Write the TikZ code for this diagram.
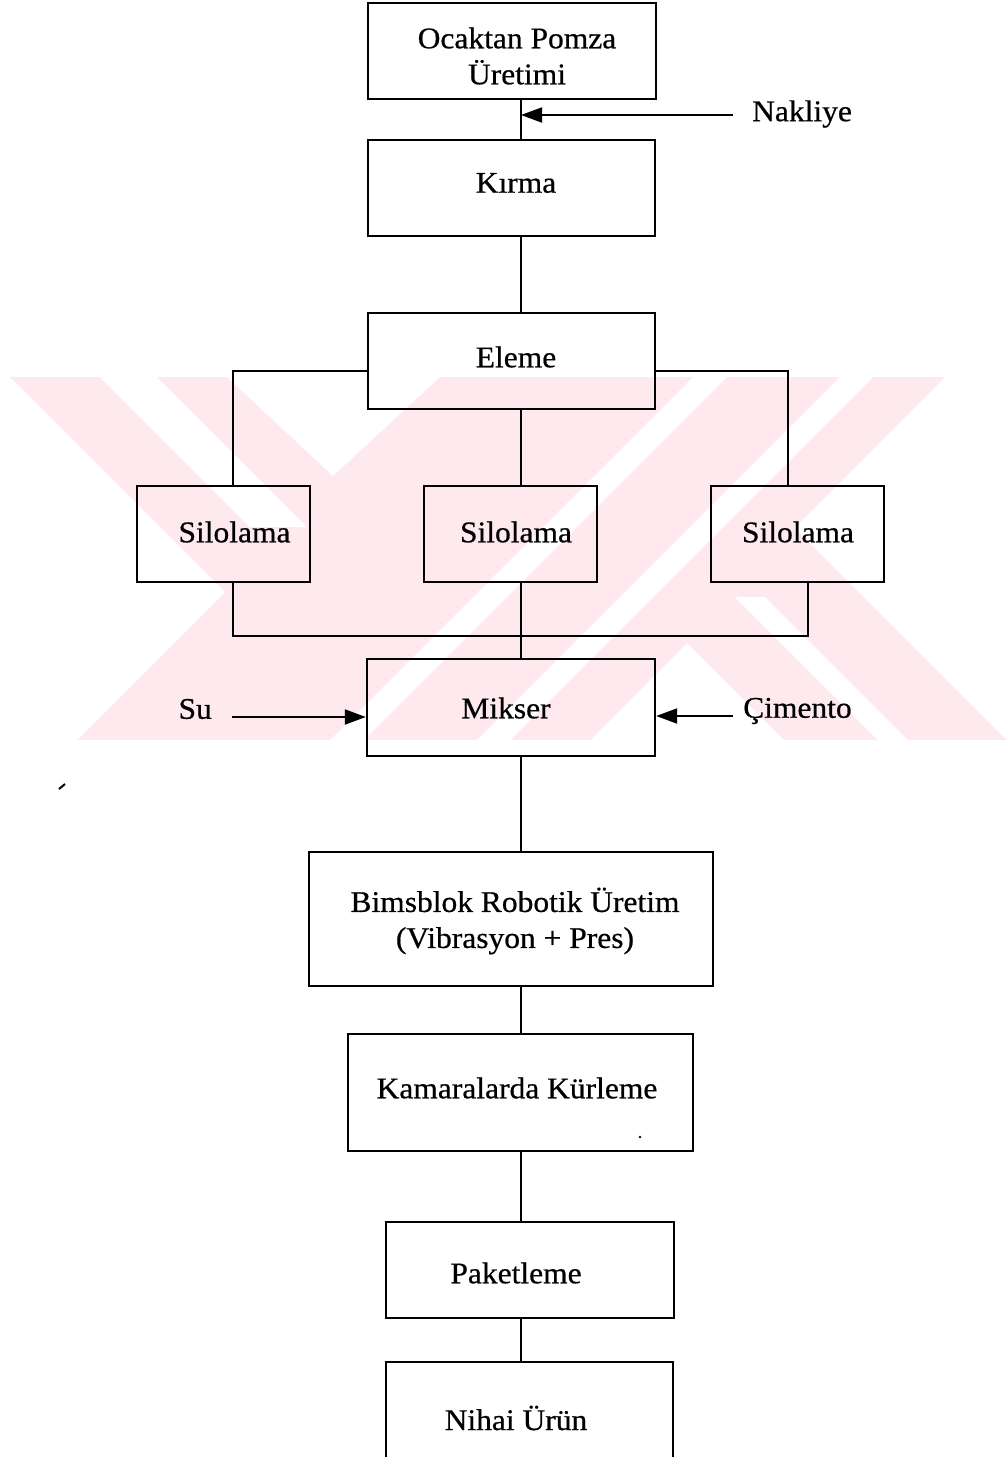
\documentclass[tikz,border=0pt]{standalone}
\usepackage{fontspec}
\setmainfont{Liberation Serif}[FakeStretch=1.05,FakeBold=0.6]
\usetikzlibrary{arrows.meta,calc}
\definecolor{wm}{RGB}{253,233,238}
\tikzset{
  box/.style={draw=black, line width=2.3pt, rectangle, inner sep=0pt},
  lbl/.style={inner sep=0pt, font=\fontsize{30}{36}\selectfont, align=center},
  conn/.style={draw=black, line width=1.9pt},
  arr/.style={conn, -{Triangle[length=21pt,width=15pt]}},
  wmcut/.style={fill=white},
}
\begin{document}
\begin{tikzpicture}[x=1pt,y=-1pt]
\useasboundingbox (0,0) rectangle (1007,1457);
\clip (0,0) rectangle (1007,1457);
% watermark (faint X of hatched ribbons)
\fill[wm] (0,377) rectangle (1007,740);
\fill[wmcut] (0,377) -- (10,377) -- (225,592) -- (77,740) -- (0,740) -- cycle;
\fill[wmcut] (227,377) -- (333,476) -- (440,377) -- cycle;
\fill[wmcut] (945,377) -- (1007,377) -- (1007,740) -- (795,528) -- cycle;
\fill[wmcut] (590,740.5) -- (687,643) -- (784,740.5) -- cycle;
\fill[wmcut] (100,377) -- (157,377) -- (307,527) -- (250,527) -- cycle;
\fill[wmcut] (693,377) -- (727,377) -- (364,740) -- (330,740) -- cycle;
\fill[wmcut] (840,377) -- (873,377) -- (510,740) -- (477,740) -- cycle;
\fill[wmcut] (735,597) -- (765,597) -- (908,740) -- (878,740) -- cycle;
% boxes
\node[box, minimum width=288pt, minimum height=96pt] (b1) at (512,51) {};
\node[box, minimum width=287pt, minimum height=96pt] (b2) at (511.5,188) {};
\node[box, minimum width=287pt, minimum height=96pt] (b3) at (511.5,361) {};
\node[box, minimum width=173pt, minimum height=96pt] (s1) at (223.5,534) {};
\node[box, minimum width=173pt, minimum height=96pt] (s2) at (510.5,534) {};
\node[box, minimum width=173pt, minimum height=96pt] (s3) at (797.5,534) {};
\node[box, minimum width=288pt, minimum height=97pt] (m) at (511,707.5) {};
\node[box, minimum width=404pt, minimum height=134pt] (b4) at (511,919) {};
\node[box, minimum width=345pt, minimum height=117pt] (b5) at (520.5,1092.5) {};
\node[box, minimum width=288pt, minimum height=96pt] (b6) at (530,1270) {};
\node[box, minimum width=287pt, minimum height=120pt] (b7) at (529.5,1422) {};
% texts
\node[lbl] (t1) at (517,56) {Ocaktan Pomza\\Üretimi};
\node[lbl] (t2) at (516,183) {Kırma};
\node[lbl] (t3) at (516,357) {Eleme};
\node[lbl] (ts1) at (234.5,532) {Silolama};
\node[lbl] (ts2) at (516,532) {Silolama};
\node[lbl] (ts3) at (798,532) {Silolama};
\node[lbl] (tm) at (506,708) {Mikser};
\node[lbl] (t4) at (515,921) {Bimsblok Robotik Üretim\\(Vibrasyon + Pres)};
\node[lbl] (t5) at (517,1088) {Kamaralarda Kürleme};
\node[lbl] (t6) at (516,1273) {Paketleme};
\node[lbl] (t7) at (516,1418) {Nihai Ürün};
\node[lbl, anchor=west] (nak) at (752,114) {Nakliye};
\node[lbl, anchor=east] (su) at (212,709) {Su};
\node[lbl, anchor=west] (cim) at (743,711) {Çimento};
% helper coordinates
\coordinate (sp) at (521,0);
\coordinate (xL) at (233,0);
\coordinate (xR) at (788,0);
\coordinate (xR2) at (808,0);
\coordinate (yE) at (0,371);
\coordinate (yJ) at (0,636);
\coordinate (nkA) at (733,115);
\coordinate (suA) at (232,717);
\coordinate (ciA) at (733,716);
% connectors
\draw[conn] (b1.south -| sp) -- (b2.north -| sp);
\draw[conn] (b2.south -| sp) -- (b3.north -| sp);
\draw[conn] (b3.west |- yE) -| (s1.north -| xL);
\draw[conn] (b3.east |- yE) -| (s3.north -| xR);
\draw[conn] (b3.south -| sp) -- (s2.north -| sp);
\draw[conn] (s1.south -| xL) |- (xR2 |- yJ) -- (s3.south -| xR2);
\draw[conn] (s2.south -| sp) -- (m.north -| sp);
\draw[conn] (m.south -| sp) -- (b4.north -| sp);
\draw[conn] (b4.south -| sp) -- (b5.north -| sp);
\draw[conn] (b5.south -| sp) -- (b6.north -| sp);
\draw[conn] (b6.south -| sp) -- (b7.north -| sp);
\draw[arr] (nkA) -- (nkA -| sp);
\draw[arr] (suA) -- (suA -| m.west);
\draw[arr] (ciA) -- (ciA -| m.east);
% scan specks
\draw[line width=2pt] (59,789) -- (65,784);
\fill (640,1137) circle (1.3pt);
\end{tikzpicture}
\end{document}
